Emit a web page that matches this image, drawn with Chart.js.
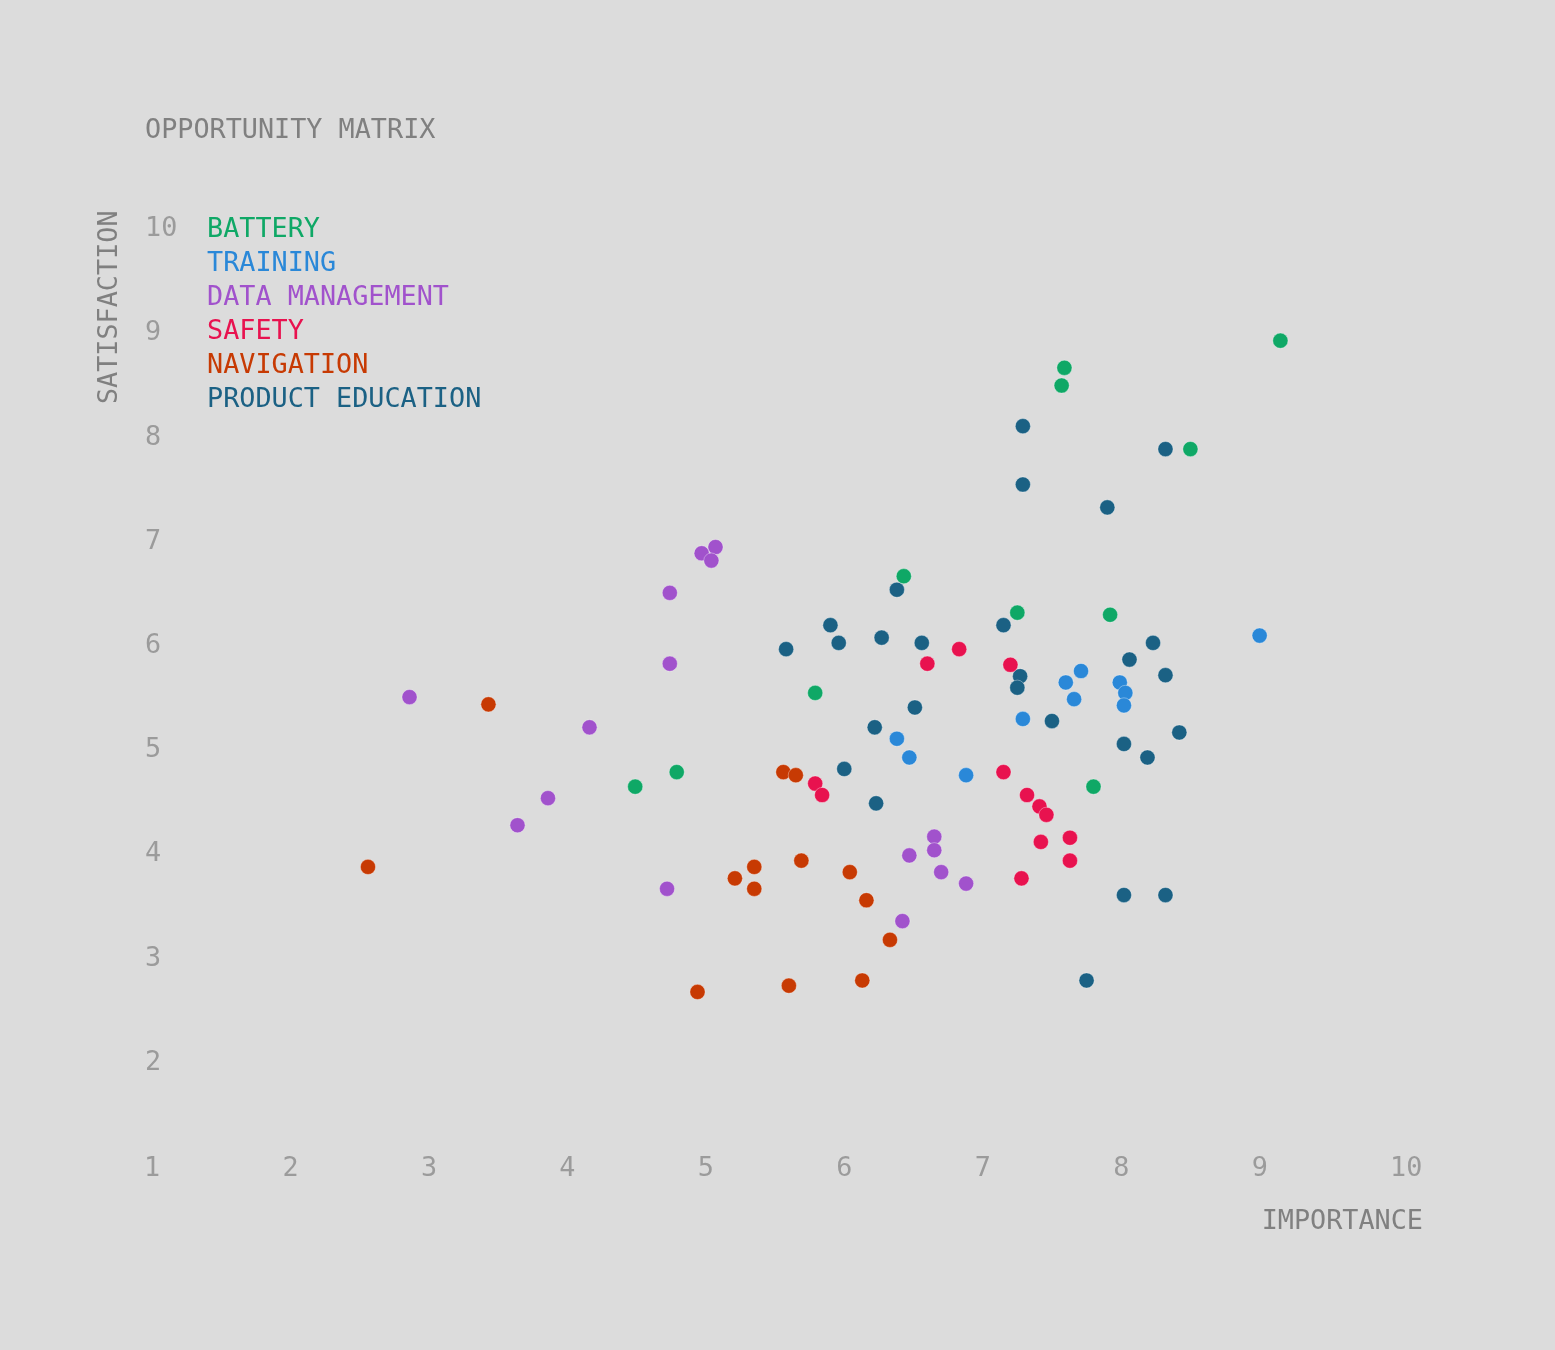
<!DOCTYPE html>
<html>
<head>
<meta charset="utf-8">
<script src="https://cdn.jsdelivr.net/npm/chart.js@4.4.1/dist/chart.umd.min.js"></script>
<style>
  html, body { margin: 0; padding: 0; background: #dcdcdc; }
  #wrap { width: 1555px; height: 1350px; position: relative; }
  canvas { display: block; }
</style>
</head>
<body>
<div id="wrap"><canvas id="chart" width="1555" height="1350" style="width:1555px;height:1350px"></canvas></div>
<script>
// ---------- DATA ----------
const chartTitle = 'OPPORTUNITY MATRIX';
const xAxisTitle = 'IMPORTANCE';
const yAxisTitle = 'SATISFACTION';
const importanceTicks = [1, 2, 3, 4, 5, 6, 7, 8, 9, 10];
const satisfactionTicks = [2, 3, 4, 5, 6, 7, 8, 9, 10];

const seriesNames = ['BATTERY', 'TRAINING', 'DATA MANAGEMENT', 'SAFETY', 'NAVIGATION', 'PRODUCT EDUCATION'];
const seriesColors = ['#0fa866', '#2a88d8', '#a152cc', '#e8124f', '#c73a03', '#1b6184'];

const batteryImportance   = [9.15, 7.59, 7.57, 8.50, 6.43, 7.25, 7.92, 5.79, 4.79, 4.49, 7.80];
const batterySatisfaction = [8.93, 8.67, 8.50, 7.89, 6.67, 6.32, 6.30, 5.55, 4.79, 4.65, 4.65];

const trainingImportance   = [9.00, 7.71, 7.60, 7.99, 7.66, 8.03, 8.02, 7.29, 6.38, 6.47, 6.88];
const trainingSatisfaction = [6.10, 5.76, 5.65, 5.65, 5.49, 5.55, 5.43, 5.30, 5.11, 4.93, 4.76];

const dataMgmtImportance   = [5.07, 4.97, 5.04, 4.74, 4.74, 2.86, 4.16, 3.86, 3.64, 6.65, 6.65, 6.47, 6.70, 6.88, 4.72, 6.42];
const dataMgmtSatisfaction = [6.95, 6.89, 6.82, 6.51, 5.83, 5.51, 5.22, 4.54, 4.28, 4.17, 4.04, 3.99, 3.83, 3.72, 3.67, 3.36];

const safetyImportance   = [6.83, 6.60, 7.20, 7.15, 5.79, 5.84, 7.32, 7.41, 7.46, 7.63, 7.42, 7.63, 7.28];
const safetySatisfaction = [5.97, 5.83, 5.82, 4.79, 4.68, 4.57, 4.57, 4.46, 4.38, 4.16, 4.12, 3.94, 3.77];

const navigationImportance   = [3.43, 5.56, 5.65, 2.56, 5.35, 5.69, 5.21, 5.35, 6.04, 6.16, 6.33, 4.94, 5.60, 6.13];
const navigationSatisfaction = [5.44, 4.79, 4.76, 3.88, 3.88, 3.94, 3.77, 3.67, 3.83, 3.56, 3.18, 2.68, 2.74, 2.79];

const productEdImportance   = [7.29, 8.32, 7.29, 7.90, 6.38, 5.90, 7.15, 6.27, 5.96, 6.56, 8.23, 5.58, 8.06, 8.32, 7.27, 7.25, 6.51, 7.50, 6.22, 8.42, 8.02, 8.19, 6.00, 6.23, 8.02, 8.32, 7.75];
const productEdSatisfaction = [8.11, 7.89, 7.55, 7.33, 6.54, 6.20, 6.20, 6.08, 6.03, 6.03, 6.03, 5.97, 5.87, 5.72, 5.71, 5.60, 5.41, 5.28, 5.22, 5.17, 5.06, 4.93, 4.82, 4.49, 3.61, 3.61, 2.79];

// ---------- BUILD ----------
const seriesX = [batteryImportance, trainingImportance, dataMgmtImportance, safetyImportance, navigationImportance, productEdImportance];
const seriesY = [batterySatisfaction, trainingSatisfaction, dataMgmtSatisfaction, safetySatisfaction, navigationSatisfaction, productEdSatisfaction];

const FONT_FAMILY = "'DejaVu Sans Mono', monospace";
const FS = 26.8;
const baseFont = { family: FONT_FAMILY, size: FS, lineHeight: 1.2, weight: 'normal' };

const datasets = seriesNames.map((name, i) => ({
  label: name,
  data: seriesX[i].map((x, j) => ({ x: x, y: seriesY[i][j] })),
  backgroundColor: seriesColors[i],
  borderColor: 'rgba(255,255,255,0.35)',
  borderWidth: 1,
  pointRadius: 7.6,
  pointHoverRadius: 7.6
}));

new Chart(document.getElementById('chart'), {
  type: 'scatter',
  data: { datasets: datasets },
  options: {
    responsive: false,
    animation: false,
    devicePixelRatio: 1,
    layout: { padding: { left: 145, right: 132, top: 0, bottom: 83 } },
    plugins: {
      title: {
        display: true,
        text: chartTitle,
        align: 'start',
        color: '#808080',
        font: baseFont,
        padding: { top: 114.9, bottom: 63.4 }
      },
      legend: {
        display: true,
        position: 'chartArea',
        align: 'start',
        title: {
          display: true,
          text: ' ',
          font: { family: FONT_FAMILY, size: 1, lineHeight: 1 },
          padding: { top: 208, bottom: 0 }
        },
        labels: {
          boxWidth: 34.4,
          boxHeight: 0,
          padding: 7.2,
          font: baseFont,
          generateLabels: (chart) => chart.data.datasets.map((ds, i) => ({
            text: ds.label,
            fontColor: seriesColors[i],
            fillStyle: 'rgba(0,0,0,0)',
            strokeStyle: 'rgba(0,0,0,0)',
            lineWidth: 0,
            hidden: !chart.isDatasetVisible(i),
            datasetIndex: i
          }))
        }
      },
      tooltip: { enabled: false }
    },
    scales: {
      x: {
        type: 'linear',
        position: 'bottom',
        min: 1,
        max: 10.18,
        grid: { display: false },
        border: { display: false },
        afterBuildTicks: (s) => { s.ticks = importanceTicks.map(v => ({ value: v })); },
        afterFit: (s) => { s.height = 100; },
        ticks: {
          mirror: true,
          align: 'start',
          labelOffset: -8,
          padding: -18,
          color: '#9b9b9b',
          font: baseFont,
          callback: (v) => String(v)
        },
        title: {
          display: true,
          text: xAxisTitle,
          align: 'end',
          color: '#808080',
          font: baseFont,
          padding: { top: 0, bottom: 28.4 }
        }
      },
      y: {
        type: 'linear',
        position: 'left',
        min: 1,
        max: 10.18,
        grid: { display: false },
        border: { display: false },
        afterBuildTicks: (s) => { s.ticks = satisfactionTicks.map(v => ({ value: v })); },
        afterFit: (s) => { s.width = 7; },
        ticks: {
          mirror: true,
          crossAlign: 'near',
          padding: -7,
          color: '#9b9b9b',
          font: baseFont,
          callback: (v) => String(v)
        },
        title: {
          display: true,
          text: yAxisTitle,
          align: 'end',
          color: '#808080',
          font: baseFont,
          padding: { top: -51.1, bottom: 0 }
        }
      }
    }
  }
});
</script>
</body>
</html>
